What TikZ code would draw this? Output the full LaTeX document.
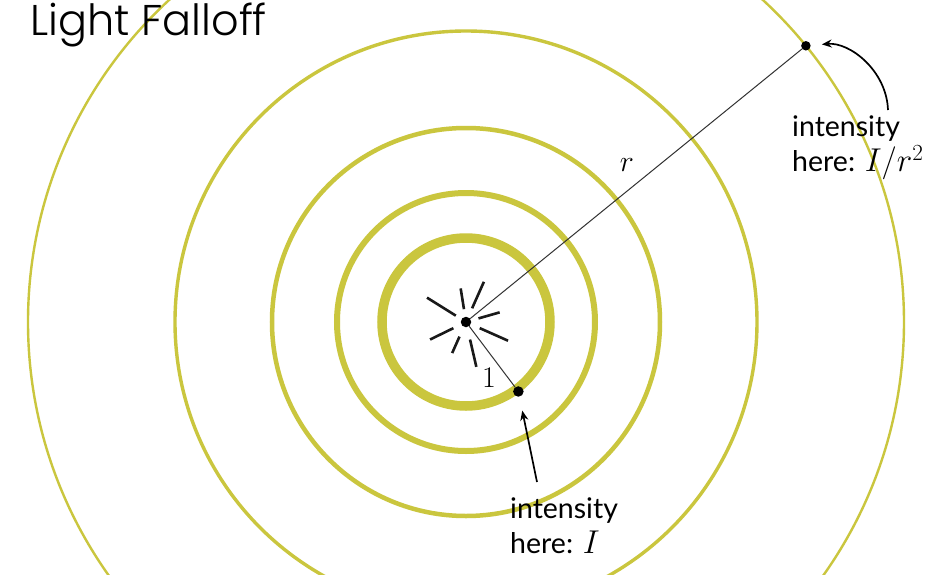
\RequirePackage{fix-cm}
\documentclass[tikz,border=0pt]{standalone}
\usepackage{fontspec}
\usepackage{tikz}
\usetikzlibrary{arrows.meta,positioning}
\definecolor{ringc}{RGB}{202,198,62}
\definecolor{spk}{RGB}{50,50,50}
\newfontfamily\labelfont{Lato}
\IfFontExistsTF{Poppins Light}{\newfontfamily\titlefont{Poppins Light}}{\newfontfamily\titlefont{Poppins}}
\newcommand\lblmath[1]{{\fontsize{33}{35}\selectfont$#1$}}

\begin{document}
\begin{tikzpicture}[x=1pt,y=1pt,
  dot/.style={circle,fill=black,inner sep=0pt,minimum size=#1},
  ring/.style={draw=ringc,line width=#1},
  lbl/.style={font={\labelfont\fontsize{28.5}{35}\selectfont},align=left,inner sep=0pt,anchor=north west},
  callout/.style={-{Stealth[length=10pt,width=8pt]},line width=1.7pt,shorten >=#1}]
  \useasboundingbox (-466,-252) rectangle (468,322);
  \fill[white] (-466,-252) rectangle (468,322);
  \foreach \r/\w in {84/9.5pt,129/6pt,194/4.5pt,291/3.4pt,438/2.4pt} {\draw[ring=\w] (0,0) circle (\r);}
  % burst of rays round the source
  \foreach \a/\ri/\ro in {148/12/46,99/13/34,66/15/44,16/13/35,-24/15/46,-77/18/46,-114/16/34,-154/14/40} {\draw[line width=2.6pt,black!90] (\a:\ri) -- (\a:\ro);}
  \node[dot=10.5pt] (src) at (0,0) {};
  \node[dot=10.5pt] (p1) at (-53:87) {}; \node[dot=9.5pt] (p2) at (39.1:438) {};
  \draw[spk,line width=1pt] (src) -- (p1); \draw[spk,line width=1pt] (src) -- (p2);
  \node[font=\fontsize{30}{36}\selectfont] (rlab) at (161,157) {$r$};
  \node[font=\fontsize{30}{36}\selectfont] (onelab) at (23,-56) {$1$};
  \node[lbl] (here1) at (44,-176) {intensity\\here: \lblmath{I}};
  \node[lbl] (here2) at (326,206) {intensity\\here: \lblmath{I/r^2}};
  \coordinate (t1) at (71,-160); \coordinate (t2) at (422,212);
  \draw[callout=14pt] (t1) -- (p1);
  \draw[callout=11pt] (t2) to[out=92,in=5] (p2);
  \node[font={\titlefont\fontsize{43}{50}\selectfont},anchor=base west,inner sep=0pt] (title) at (-436,287) {Light Falloff};
\end{tikzpicture}
\end{document}
